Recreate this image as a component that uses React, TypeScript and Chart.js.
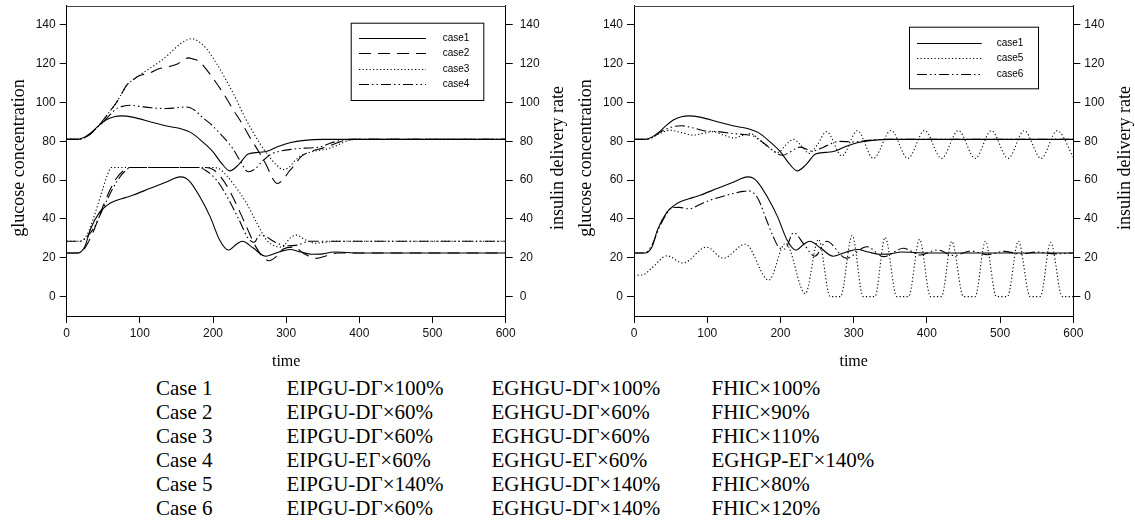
import React, { useEffect, useRef } from "react";
import { Chart, registerables } from "chart.js";
Chart.register(...registerables);

// ---------- axes ----------
const xTickValues = [0, 100, 200, 300, 400, 500, 600];
const yTickValues = [0, 20, 40, 60, 80, 100, 120, 140];

// ---------- case 1 (shared by both panels) ----------
const gluT1 = [0, 15, 25, 35, 45, 55, 65, 75, 90, 115, 135, 155, 170, 185, 200, 212, 223, 235, 248, 262, 275, 290, 305, 325, 350, 400, 600];
const gluC1 = [81, 81, 82.3, 85, 88.5, 91.3, 92.7, 93.1, 92.5, 90, 88, 86.6, 84.5, 80, 74.6, 68.5, 64.8, 68, 73.5, 74.3, 75, 77.5, 79.3, 80.5, 81, 81, 81];
const insT1 = [0, 15, 25, 32, 45, 55, 64, 80, 91, 114, 137, 155, 163, 170, 182, 196, 209, 221, 232, 240, 255, 272, 290, 305, 320, 335, 350, 365, 400, 600];
const insC1 = [22.5, 22.5, 26, 34.3, 43.5, 47, 49, 51, 52.3, 55.8, 59.2, 61.7, 61, 58.5, 51.4, 41.2, 29.2, 24, 27, 28.5, 25, 20.8, 23, 24.3, 23, 21.8, 22, 23, 22.5, 22.5];

// ---------- case 2 ----------
const gluT2 = [0, 15, 25, 33, 41, 50, 60, 68, 75, 82, 90, 96, 105, 115, 127, 140, 152, 160, 166, 172, 182, 195, 205, 217, 228, 240, 250, 262, 273, 282, 288, 295, 305, 312, 320, 335, 350, 365, 380, 393, 600];
const gluC2 = [81, 81, 82, 84, 87, 91, 96, 100, 104.5, 109, 111.5, 113.2, 114.5, 115.5, 117.5, 118.5, 120, 122, 123, 122.5, 120.9, 115, 109.8, 103, 96, 89, 82.3, 75, 67.7, 60.5, 58.3, 60, 65, 68, 72, 75, 76.5, 78.5, 80.5, 81, 81];
const insT2 = [0, 18, 28, 38, 48, 58, 68, 78, 86, 190, 200, 210, 222, 235, 248, 258, 268, 277, 286, 296, 310, 325, 341, 355, 370, 600];
const insC2 = [22.5, 22.5, 27, 35, 45, 54, 61, 65, 66.5, 66.5, 65.5, 62, 55, 45, 34, 26, 20.5, 18.5, 20.5, 24.5, 25.5, 22, 19.7, 21, 22.5, 22.5];

// ---------- case 3 ----------
const gluT3 = [0, 15, 25, 33, 41, 50, 60, 68, 75, 82, 90, 96, 105, 115, 127, 140, 150, 160, 171, 180, 191, 205, 218, 230, 241, 252, 264, 276, 287, 296, 305, 313, 325, 340, 355, 370, 385, 400, 600];
const gluC3 = [81, 81, 82, 84, 87, 91, 96, 100, 104.5, 109, 111.5, 113.2, 115.5, 118, 121, 125, 128.6, 131.5, 132.9, 131.5, 127.8, 120, 111.5, 103, 94.3, 86.5, 78.9, 72.5, 67.7, 65.5, 67, 70.5, 73.5, 75, 76, 78, 80.5, 81, 81];
const insT3 = [0, 18, 28, 38, 48, 55, 61, 200, 210, 218, 228, 246, 260, 273, 285, 294, 305, 314, 325, 340, 352, 370, 600];
const insC3 = [28.5, 28.5, 32, 42, 54, 62, 66.5, 66.5, 65.5, 62.6, 58, 48, 37.8, 29.2, 26, 25.5, 30, 31.7, 29.5, 27.5, 28, 28.5, 28.5];

// ---------- case 4 ----------
const gluT4 = [0, 15, 25, 33, 41, 50, 60, 68, 78, 87, 100, 115, 137, 150, 164, 175, 185, 195, 205, 217, 227, 237, 248, 258, 268, 280, 292, 310, 325, 345, 360, 375, 390, 600];
const gluC4 = [81, 81, 82, 84, 87, 90, 94, 96.8, 98.2, 98.6, 98, 97.3, 96.9, 97.3, 97.7, 96, 92.5, 89.5, 85.8, 81, 76.3, 70, 64.3, 66, 70, 73.5, 75, 76, 76.5, 77, 79, 80.5, 81, 81];
const insT4 = [0, 18, 28, 38, 48, 58, 68, 78, 88, 180, 190, 205, 220, 235, 248, 256, 264, 272, 285, 300, 315, 332, 600];
const insC4 = [28.5, 28.5, 31, 36, 44, 52, 59, 64, 66.5, 66.5, 65, 60, 51, 40, 30, 28, 31.7, 31, 28, 26.2, 26.5, 28.5, 28.5];

// ---------- case 5 ----------
const gluT5 = [0, 15, 25, 35, 49, 65, 81, 95, 108, 122, 136, 148, 159, 172, 185, 197, 207, 218, 228, 239, 250, 263, 284, 305, 327, 351, 374, 397, 420, 443, 466, 488, 511, 533, 556, 578, 600];
const gluC5 = [81, 81, 82, 84, 85.7, 84.5, 83.2, 84.2, 85, 83.3, 81.8, 83, 84, 80.6, 76.5, 74.3, 78, 81, 78, 73.8, 78, 85, 72.5, 85.5, 71.2, 85.6, 71.2, 85.6, 71.2, 85.6, 71.2, 85.5, 71.2, 85.5, 71.2, 85.5, 72];
const insT5 = [0, 12, 25, 45, 67, 99, 122, 152, 184, 207, 234, 252, 268, 282, 298, 313, 329, 343, 359, 375, 390, 405, 420, 434, 450, 466, 480, 495, 510, 525, 541, 555, 569, 585, 600];
const insC5 = [11, 11.2, 15, 21, 17.3, 25.5, 19.8, 27, 8.5, 27.5, 1.5, 29.5, 0, 0, 31.5, 0, 0, 30.5, 0, 0, 29.5, 0, 0, 28.5, 0, 0, 28.5, 0, 0, 28.5, 0, 0, 28, 0, 0];

// ---------- case 6 ----------
const gluT6 = [0, 15, 25, 35, 45, 55, 65, 80, 95, 115, 136, 150, 163, 172, 181, 195, 203, 213, 227, 243, 259, 270, 281, 300, 320, 340, 600];
const gluC6 = [81, 81, 82, 84.5, 86.5, 87.7, 88, 87, 85.5, 85, 84, 83.5, 82.7, 80.5, 78, 73.8, 72.8, 74.5, 77, 75, 77, 79, 80, 79.7, 80.5, 81, 81];
const insT6 = [0, 15, 25, 35, 45, 52, 62, 75, 90, 104, 127, 149, 156, 163, 170, 181, 190, 199, 206, 218, 232, 247, 263, 290, 318, 341, 368, 391, 414, 437, 460, 483, 505, 528, 551, 574, 600];
const insC6 = [22.5, 22.5, 27, 36, 43, 45.8, 46, 45.2, 47.5, 49.7, 52.3, 54.2, 54.5, 53.5, 50, 39.5, 31, 25, 24.5, 33, 27, 20.8, 28.5, 19.8, 25.7, 20.6, 24.9, 21.4, 24, 21.2, 23.5, 21.6, 23.3, 22, 23, 22, 22.5];

// ---------- table ----------
const caseNames = ["Case 1", "Case 2", "Case 3", "Case 4", "Case 5", "Case 6"];
const colEIPGU = ["EIPGU-DΓ×100%", "EIPGU-DΓ×60%", "EIPGU-DΓ×60%", "EIPGU-EΓ×60%", "EIPGU-DΓ×140%", "EIPGU-DΓ×60%"];
const colEGHGU = ["EGHGU-DΓ×100%", "EGHGU-DΓ×60%", "EGHGU-DΓ×60%", "EGHGU-EΓ×60%", "EGHGU-DΓ×140%", "EGHGU-DΓ×140%"];
const colThird = ["FHIC×100%", "FHIC×90%", "FHIC×110%", "EGHGP-EΓ×140%", "FHIC×80%", "FHIC×120%"];

// ---------- styles ----------
const SOLID: number[] = [];
const DASH = [12, 7];
const DOT = [1.2, 2.3];
const DASHDOTDOT = [10, 3, 1.5, 3, 1.5, 3];

const SANS = "'Liberation Sans', Arial, sans-serif";
const SERIF = "'Liberation Serif', 'Times New Roman', serif";

function pts(t: number[], v: number[]) {
  return t.map((x, i) => ({ x, y: v[i] }));
}

function ds(label: string, t: number[], v: number[], dash: number[], axis: string, inLegend: boolean) {
  return {
    label,
    data: pts(t, v),
    borderColor: "#000",
    borderWidth: 1.1,
    borderDash: dash,
    pointRadius: 0,
    fill: false,
    cubicInterpolationMode: "monotone",
    yAxisID: axis,
    inLegend,
  };
}

const boxLegendPlugin = {
  id: "boxLegend",
  afterDraw(chart: any, _a: any, o: any) {
    const ctx = chart.ctx;
    ctx.save();
    ctx.fillStyle = "#fff";
    ctx.fillRect(o.x, o.y, o.w, o.h);
    ctx.strokeStyle = "#000";
    ctx.lineWidth = 1;
    ctx.setLineDash([]);
    ctx.strokeRect(o.x + 0.5, o.y + 0.5, o.w, o.h);
    const items = chart.data.datasets.filter((d: any) => d.inLegend);
    ctx.font = `10px ${SANS}`;
    ctx.textBaseline = "middle";
    ctx.textAlign = "left";
    items.forEach((d: any, i: number) => {
      const yy = Math.round(o.row0 + i * o.rowGap) + 0.5;
      ctx.beginPath();
      ctx.setLineDash(d.borderDash || []);
      ctx.lineWidth = 1.1;
      ctx.moveTo(o.lx0, yy);
      ctx.lineTo(o.lx1, yy);
      ctx.stroke();
      ctx.setLineDash([]);
      ctx.fillStyle = "#000";
      ctx.fillText(d.label, o.tx, yy);
    });
    ctx.restore();
  },
};

const framePlugin = {
  id: "frameTop",
  afterDraw(chart: any) {
    const { ctx, chartArea } = chart;
    ctx.save();
    ctx.strokeStyle = "#444";
    ctx.lineWidth = 1;
    ctx.setLineDash([]);
    ctx.beginPath();
    ctx.moveTo(chartArea.left, Math.round(chartArea.top) + 0.5);
    ctx.lineTo(chartArea.right, Math.round(chartArea.top) + 0.5);
    ctx.stroke();
    ctx.restore();
  },
};

const titlesPlugin = {
  id: "axisTitles",
  afterDraw(chart: any, _a: any, o: any) {
    const { ctx, chartArea } = chart;
    ctx.save();
    ctx.fillStyle = "#000";
    ctx.font = `18px ${SERIF}`;
    ctx.textAlign = "center";
    ctx.textBaseline = "alphabetic";
    [o.left, o.right].forEach((t: any) => {
      ctx.save();
      ctx.translate(t.x, o.cy);
      ctx.rotate(-Math.PI / 2);
      ctx.fillText(t.text, 0, 0);
      ctx.restore();
    });
    ctx.font = `16px ${SERIF}`;
    ctx.fillText(o.xTitle, (chartArea.left + chartArea.right) / 2, o.xTitleY);
    ctx.restore();
  },
};

function yScale(position: string, width: number, pad: number) {
  return {
    type: "linear",
    position,
    min: -10,
    max: 150,
    afterBuildTicks: (s: any) => {
      s.ticks = yTickValues.map((v) => ({ value: v }));
    },
    ticks: { font: { family: SANS, size: 12 }, color: "#111", padding: pad },
    grid: { drawOnChartArea: false, drawTicks: true, tickLength: 7, color: "#000" },
    border: { display: true, color: "#000", width: 1 },
    afterFit: (s: any) => {
      s.width = width;
      s.paddingTop = 0;
      s.paddingBottom = 0;
    },
  };
}

type PanelProps = {
  left: number;
  width: number;
  leftW: number;
  rightW: number;
  rightPad: number;
  datasets: any[];
  legend: any;
  titles: any;
};

function Panel(p: PanelProps) {
  const ref = useRef<HTMLCanvasElement | null>(null);
  useEffect(() => {
    if (!ref.current) return;
    const chart = new Chart(ref.current, {
      type: "line",
      data: { datasets: p.datasets },
      options: {
        responsive: false,
        animation: false,
        devicePixelRatio: 1,
        layout: { padding: { top: 5.5, left: 0, right: 0, bottom: 0 } },
        plugins: {
          legend: { display: false },
          tooltip: { enabled: false },
          boxLegend: p.legend,
          axisTitles: p.titles,
        },
        scales: {
          x: {
            type: "linear",
            min: 0,
            max: 600,
            afterBuildTicks: (s: any) => {
              s.ticks = xTickValues.map((v) => ({ value: v }));
            },
            ticks: { font: { family: SANS, size: 12 }, color: "#111", padding: 3, maxRotation: 0 },
            grid: { drawOnChartArea: false, drawTicks: true, tickLength: 7, color: "#000" },
            border: { display: true, color: "#000", width: 1 },
            afterFit: (s: any) => {
              s.height = 56;
              s.paddingLeft = 0;
              s.paddingRight = 0;
            },
          },
          y: yScale("left", p.leftW, 4),
          y2: yScale("right", p.rightW, p.rightPad),
        },
      } as any,
      plugins: [framePlugin, boxLegendPlugin, titlesPlugin],
    } as any);
    return () => chart.destroy();
  }, []);
  return (
    <canvas
      ref={ref}
      width={p.width}
      height={372}
      style={{ position: "absolute", left: p.left, top: 0, width: p.width, height: 372, display: "block" }}
    />
  );
}

export default function App() {
  const leftSets = [
    ds("case1", gluT1, gluC1, SOLID, "y", true),
    ds("case2", gluT2, gluC2, DASH, "y", true),
    ds("case3", gluT3, gluC3, DOT, "y", true),
    ds("case4", gluT4, gluC4, DASHDOTDOT, "y", true),
    ds("", insT1, insC1, SOLID, "y2", false),
    ds("", insT2, insC2, DASH, "y2", false),
    ds("", insT3, insC3, DOT, "y2", false),
    ds("", insT4, insC4, DASHDOTDOT, "y2", false),
  ];
  const rightSets = [
    ds("case1", gluT1, gluC1, SOLID, "y", true),
    ds("case5", gluT5, gluC5, DOT, "y", true),
    ds("case6", gluT6, gluC6, DASHDOTDOT, "y", true),
    ds("", insT1, insC1, SOLID, "y2", false),
    ds("", insT5, insC5, DOT, "y2", false),
    ds("", insT6, insC6, DASHDOTDOT, "y2", false),
  ];
  const colLeft = [156, 286.5, 491.5, 711.5];
  return (
    <div style={{ position: "absolute", left: 0, top: 0, width: 1135, height: 520, background: "#fff", overflow: "hidden" }}>
      <Panel
        left={0}
        width={567}
        leftW={66.7}
        rightW={61.3}
        rightPad={7}
        datasets={leftSets}
        legend={{ x: 350.7, y: 22.7, w: 132.6, h: 77.3, lx0: 359, lx1: 426, tx: 442.7, row0: 38.3, rowGap: 15.1 }}
        titles={{
          left: { text: "glucose concentration", x: 24 },
          right: { text: "insulin delivery rate", x: 562.5 },
          cy: 158,
          xTitle: "time",
          xTitleY: 366,
        }}
      />
      <Panel
        left={567}
        width={568}
        leftW={67}
        rightW={61.7}
        rightPad={4}
        datasets={rightSets}
        legend={{ x: 342, y: 26.7, w: 129, h: 61.6, lx0: 350, lx1: 414.7, tx: 429.7, row0: 42.7, rowGap: 15.6 }}
        titles={{
          left: { text: "glucose concentration", x: 24 },
          right: { text: "insulin delivery rate", x: 563 },
          cy: 158,
          xTitle: "time",
          xTitleY: 366,
        }}
      />
      <div style={{ position: "absolute", left: 0, top: 376, width: 1135, fontFamily: SERIF, fontSize: 21, lineHeight: "24px", color: "#000" }}>
        {caseNames.map((name, i) => (
          <div key={name} style={{ position: "relative", height: 24, whiteSpace: "nowrap" }}>
            <span style={{ position: "absolute", left: colLeft[0] }}>{name}</span>
            <span style={{ position: "absolute", left: colLeft[1] }}>{colEIPGU[i]}</span>
            <span style={{ position: "absolute", left: colLeft[2] }}>{colEGHGU[i]}</span>
            <span style={{ position: "absolute", left: colLeft[3] }}>{colThird[i]}</span>
          </div>
        ))}
      </div>
    </div>
  );
}
